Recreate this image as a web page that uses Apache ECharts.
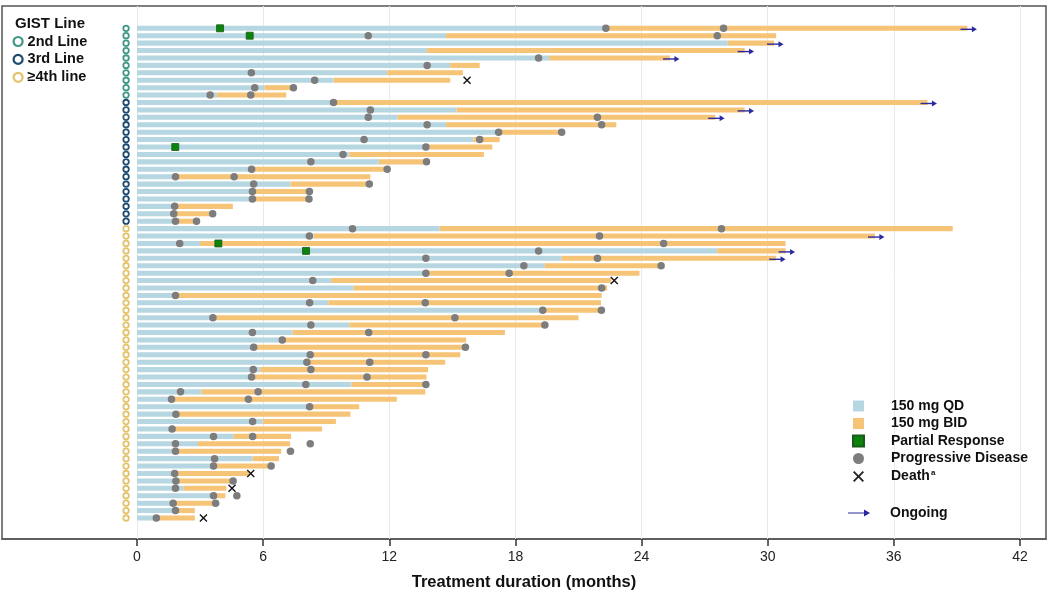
<!DOCTYPE html>
<html>
<head>
<meta charset="utf-8">
<script src="https://cdn.jsdelivr.net/npm/echarts@6/dist/echarts.min.js"></script>
<style>html,body{margin:0;padding:0;background:#fff}#c{width:1050px;height:602px}</style>
</head>
<body>
<div id="c"></div>
<script>
// ---------- DATA (rows top to bottom) ----------
const lineNames = ['2nd Line', '3rd Line', '≥4th line'];
const lineCounts = [10, 17, 40];

const qdEnd = [22.4,14.7,28.1,13.8,19.6,14.9,11.9,9.35,6.06,3.8,
  9.4,15.2,12.4,14.7,17.3,16.0,13.9,10.1,11.5,5.6,1.9,7.3,5.6,5.6,1.85,1.8,1.9,
  14.4,8.4,3.0,27.6,20.2,19.4,13.9,9.24,10.3,1.9,9.1,19.3,3.7,10.1,7.4,7.0,5.7,8.4,8.2,5.86,
  5.6,10.2,3.07,1.7,8.3,1.9,5.98,1.75,4.59,2.9,1.9,5.5,3.75,1.85,1.9,2.2,3.75,1.8,1.9,1.0];

const totalEnd = [39.5,30.4,30.3,28.9,25.35,16.3,15.5,14.9,7.42,7.1,
  37.6,28.9,27.5,22.8,20.2,17.25,16.9,16.5,13.8,11.9,11.1,11.07,8.1,8.05,4.56,3.45,2.7,
  38.8,35.1,30.85,30.85,30.4,24.9,23.9,22.56,22.36,22.1,22.07,22.1,21.0,19.4,17.5,15.65,15.6,15.38,14.66,13.84,
  13.77,13.74,13.71,12.36,10.57,10.15,9.46,8.8,7.33,7.28,6.86,6.75,6.38,5.34,4.57,4.25,4.2,3.74,2.75,2.75];

const pdTimes = [[22.3,27.9],[11.0,27.6],[],[],[19.1],[13.8],[5.44],[8.45],[5.6,7.44],[3.48,5.41],
  [9.35],[11.1],[11.0,21.9],[13.8,22.1],[17.2,20.2],[10.8,16.3],[13.74],[9.8],[8.27,13.77],[5.45,11.9],
  [1.83,4.62],[5.55,11.05],[5.49,8.2],[5.49,8.18],[1.79],[1.75,3.6],[1.83,2.83],
  [10.25,27.8],[8.2,22.0],[2.03,25.05],[19.1],[13.74,21.9],[18.4,24.93],[13.74,17.7],[8.36],[22.1],[1.83],
  [8.21,13.71],[19.3,22.09],[3.61,15.12],[8.27,19.4],[5.49,11.02],[6.91],[5.55,15.62],[8.24,13.74],[8.08,11.07],[5.53,8.27],
  [5.45,10.94],[8.03,13.74],[2.07,5.76],[1.64,5.3],[8.21],[1.85],[5.5],[1.67],[3.64,5.5],[1.83,8.24],
  [1.83,7.3],[3.69],[3.64,6.38],[1.79],[1.85,4.57],[1.83],[3.64,4.75],[1.72,3.74],[1.83],[0.92]];

const prRows = [1, 2, 17, 30, 31];
const prTimes = [3.95, 5.36, 1.82, 3.87, 8.04];

const deathRows = [8, 35, 61, 63, 67];
const deathTimes = [15.7, 22.7, 5.41, 4.52, 3.16];

const ongoingRows = [1, 3, 4, 5, 11, 12, 13, 29, 31, 32];

const xTicks = [0, 6, 12, 18, 24, 30, 36, 42];

// ---------- build series data ----------
const nRows = qdEnd.length;
const qdData = [], bidData = [], pdData = [], prData = [], deathData = [], ongoingData = [];
for (let i = 0; i < nRows; i++) {
  const row = i + 1;
  qdData.push([row, 0, qdEnd[i]]);
  bidData.push([row, qdEnd[i], totalEnd[i]]);
  pdTimes[i].forEach(t => pdData.push([t, row]));
}
prRows.forEach((r, k) => prData.push([prTimes[k], r]));
deathRows.forEach((r, k) => deathData.push([deathTimes[k], r]));
ongoingRows.forEach(r => ongoingData.push([r, totalEnd[r - 1]]));

const ringData = [[], [], []];
let rr = 1;
lineCounts.forEach((n, g) => { for (let k = 0; k < n; k++) ringData[g].push([-0.52, rr++]); });

const ringColors = ['#3f9885', '#1d4a70', '#e3c46c'];
const QD = '#b6d7e2', BID = '#f5c477';

function barRender(params, api) {
  const row = api.value(0);
  const a = api.coord([api.value(1), row]);
  const b = api.coord([api.value(2), row]);
  const h = api.size([0, 1])[1] * 0.68;
  return { type: 'rect', shape: { x: a[0], y: a[1] - h / 2, width: Math.max(0, b[0] - a[0]), height: h },
           style: { fill: api.visual('color') } };
}
function arrowRender(params, api) {
  const row = api.value(0), end = api.value(1);
  const p0 = api.coord([end - 0.33, row]);
  const p1 = api.coord([end + 0.45, row]);
  const y = p0[1] + 1;
  const c = '#2a2aa0';
  return { type: 'group', children: [
    { type: 'line', shape: { x1: p0[0], y1: y, x2: p1[0] - 2, y2: y }, style: { stroke: c, lineWidth: 1.4 } },
    { type: 'polygon', shape: { points: [[p1[0] - 5, y - 3], [p1[0], y], [p1[0] - 5, y + 3]] }, style: { fill: c } }
  ]};
}

const xPerPx = 42 / (1020 - 137);
const xMin = (2 - 137) * xPerPx, xMax = (1046 - 137) * xPerPx;

const crossPath = 'path://M0,1.2L1.2,0L5,3.8L8.8,0L10,1.2L6.2,5L10,8.8L8.8,10L5,6.2L1.2,10L0,8.8L3.8,5Z';
const arrowPath = 'path://M0,4.4L16,4.4L16,1.5L22,5L16,8.5L16,5.6L0,5.6Z';

const chart = echarts.init(document.getElementById('c'), null, { renderer: 'canvas' });
const font = 'Liberation Sans, Arial, sans-serif';
chart.setOption({
  animation: false,
  textStyle: { fontFamily: font },
  title: { text: 'GIST Line', left: 15, top: 16, padding: 0,
           textStyle: { fontFamily: font, fontWeight: 'bold', fontSize: 15, color: '#111' } },
  grid: { left: 2, right: 4, top: 6, bottom: 63, show: true, borderColor: '#555', borderWidth: 1.5, backgroundColor: 'transparent' },
  xAxis: {
    type: 'value', min: xMin, max: xMax,
    name: 'Treatment duration (months)', nameLocation: 'middle', nameGap: 35,
    nameTextStyle: { fontFamily: font, fontWeight: 'bold', fontSize: 16.5, color: '#111' },
    axisLine: { show: true, onZero: false, lineStyle: { color: '#555', width: 1.5 } },
    axisTick: { show: true, length: 7, customValues: xTicks, lineStyle: { color: '#333', width: 1.5 } },
    axisLabel: { customValues: xTicks, margin: 11, fontSize: 14, color: '#222', fontFamily: font },
    splitLine: { show: false }
  },
  yAxis: { type: 'value', inverse: true, min: -2.005, max: 69.83, show: false },
  legend: [
    { orient: 'vertical', left: 12.5, top: 34, padding: 0, itemWidth: 9, itemHeight: 9, itemGap: 2.9,
      textStyle: { fontFamily: font, fontWeight: 'bold', fontSize: 14.5, color: '#111' },
      data: lineNames.map((n, g) => ({ name: n, icon: 'circle',
        itemStyle: { color: '#fff', borderColor: ringColors[g], borderWidth: 2.2 } })) },
    { orient: 'vertical', left: 852, top: 399, padding: 0, itemWidth: 11, itemHeight: 11, itemGap: 3.5,
      textStyle: { fontFamily: font, fontWeight: 'bold', fontSize: 14, color: '#111', padding: [0, 0, 0, 22],
        rich: { b: { fontFamily: font, fontWeight: 'bold', fontSize: 14, color: '#111' },
                s: { fontFamily: font, fontWeight: 'bold', fontSize: 8, color: '#111', padding: [0, 0, 7, 1] } } },
      formatter: n => n === 'Death' ? '{b|Death}{s|a}' : n,
      data: [
        { name: '150 mg QD', icon: 'rect' },
        { name: '150 mg BID', icon: 'rect' },
        { name: 'Partial Response', icon: 'rect' },
        { name: 'Progressive Disease', icon: 'circle' },
        { name: 'Death', icon: crossPath, itemStyle: { color: '#222' } }
      ] },
    { orient: 'vertical', left: 848, top: 506, padding: 0, itemWidth: 22, itemHeight: 9,
      textStyle: { fontFamily: font, fontWeight: 'bold', fontSize: 14, color: '#111', padding: [0, 0, 0, 15] },
      data: [{ name: 'Ongoing', icon: arrowPath, itemStyle: { color: '#2a2aa0' } }] }
  ],
  series: [
    { type: 'line', name: 'grid', data: [], z: 1, silent: true,
      markLine: { silent: true, symbol: 'none', z: 1, label: { show: false },
        lineStyle: { color: '#e9e9e9', width: 1, type: 'solid' },
        data: xTicks.map(v => ({ xAxis: v })) } },
    { type: 'custom', name: '150 mg QD', renderItem: barRender, data: qdData, encode: { x: [1, 2], y: 0 },
      itemStyle: { color: QD }, z: 3, silent: true },
    { type: 'custom', name: '150 mg BID', renderItem: barRender, data: bidData, encode: { x: [1, 2], y: 0 },
      itemStyle: { color: BID }, z: 3, silent: true },
    { type: 'custom', name: 'Ongoing', renderItem: arrowRender, data: ongoingData, encode: { x: 1, y: 0 },
      itemStyle: { color: '#2a2aa0' }, z: 4, silent: true },
    { type: 'scatter', name: 'Progressive Disease', data: pdData, symbol: 'circle', symbolSize: 7.5,
      itemStyle: { color: '#7d7d7d', opacity: 1 }, z: 5, silent: true },
    { type: 'scatter', name: 'Partial Response', data: prData, symbol: 'rect', symbolSize: 7,
      itemStyle: { color: '#0a840a', borderColor: '#1b5a1b', borderWidth: 0.8, opacity: 1 }, z: 6, silent: true },
    { type: 'scatter', name: 'Death', data: deathData, symbol: crossPath, symbolSize: 8,
      itemStyle: { color: '#111', opacity: 1 }, z: 6, silent: true },
    ...lineNames.map((n, g) => ({ type: 'scatter', name: n, data: ringData[g], symbol: 'circle', symbolSize: 5.5,
      itemStyle: { color: '#fff', borderColor: ringColors[g], borderWidth: 1.8, opacity: 1 }, z: 5, silent: true }))
  ]
});
</script>
</body>
</html>
